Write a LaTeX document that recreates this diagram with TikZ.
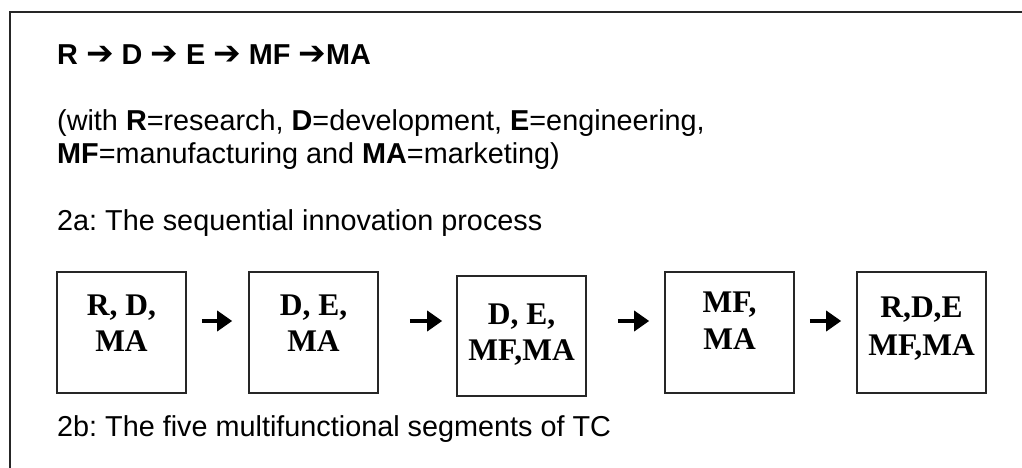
\documentclass[tikz,border=0pt]{standalone}
\usepackage{fontspec}
\setmainfont{Liberation Sans}
\newfontfamily\segfont{Liberation Serif}
\newfontfamily\symfont{DejaVu Sans}
\usetikzlibrary{arrows.meta}
\newcommand\flowarrow{{\symfont\fontsize{33}{33}\selectfont ➔}}
\frenchspacing

\tikzset{
  frameline/.style={line width=1.8pt, draw=black!85},
  bodytext/.style={anchor=base west, inner sep=0pt,
    font=\fontsize{28.8}{33}\selectfont},
  segbox/.style={draw=black!85, line width=1.6pt, rectangle, inner sep=0pt,
    minimum width=129pt, minimum height=121pt},
  segtext/.style={anchor=north, inner sep=0pt, align=center,
    font=\segfont\bfseries\fontsize{31.5}{36}\selectfont},
  flow/.style={line width=3.5pt, -{Triangle[length=15pt,width=20pt]}},
}

\begin{document}
\begin{tikzpicture}[x=1pt,y=-1pt]
\useasboundingbox (0,0) rectangle (1022,468);

% open frame: top edge and left edge only
\draw[frameline] (1022,12) -- (10,12) -- (10,468);

% text block
\node[bodytext] (title) at (57,65) {\textbf{R \flowarrow{} D \flowarrow{} E \flowarrow{} MF \flowarrow MA}};
\node[bodytext] (legA) at (57,131) {(with \textbf{R}=research, \textbf{D}=development, \textbf{E}=engineering,};
\node[bodytext] (legB) at (57,164) {\textbf{MF}=manufacturing and \textbf{MA}=marketing)};
\node[bodytext] (capA) at (57,230) {2a: The sequential innovation process};

% the five segments
\node[segbox] (b1) at (121.5,332.5) {};
\node[segbox] (b2) at (313.5,332.5) {};
\node[segbox, minimum height=120pt] (b3) at (521.5,336) {};
\node[segbox] (b4) at (729.5,332.5) {};
\node[segbox] (b5) at (921.5,332.5) {};

\node[segtext] (t1) at (121.5,295) {R, D,\\MA};
\node[segtext] (t2) at (313.5,295) {D, E,\\MA};
\node[segtext] (t3) at (521.5,304) {D, E,\\MF,MA};
\node[segtext] (t4) at (729.5,292) {MF,\\[1pt]MA};
\node[segtext] (t5) at (921.5,297) {R,D,E\\[2pt]MF,MA};

% connectors between segments
\coordinate (lvl) at (0,321);
\draw[flow, shorten <=15pt, shorten >=16pt] (b1.east |- lvl) -- (b2.west |- lvl);
\draw[flow, shorten <=31pt, shorten >=14pt] (b2.east |- lvl) -- (b3.west |- lvl);
\draw[flow, shorten <=31pt, shorten >=15pt] (b3.east |- lvl) -- (b4.west |- lvl);
\draw[flow, shorten <=15pt, shorten >=15pt] (b4.east |- lvl) -- (b5.west |- lvl);

\node[bodytext] (capB) at (57,436) {2b: The five multifunctional segments of TC};
\end{tikzpicture}
\end{document}
